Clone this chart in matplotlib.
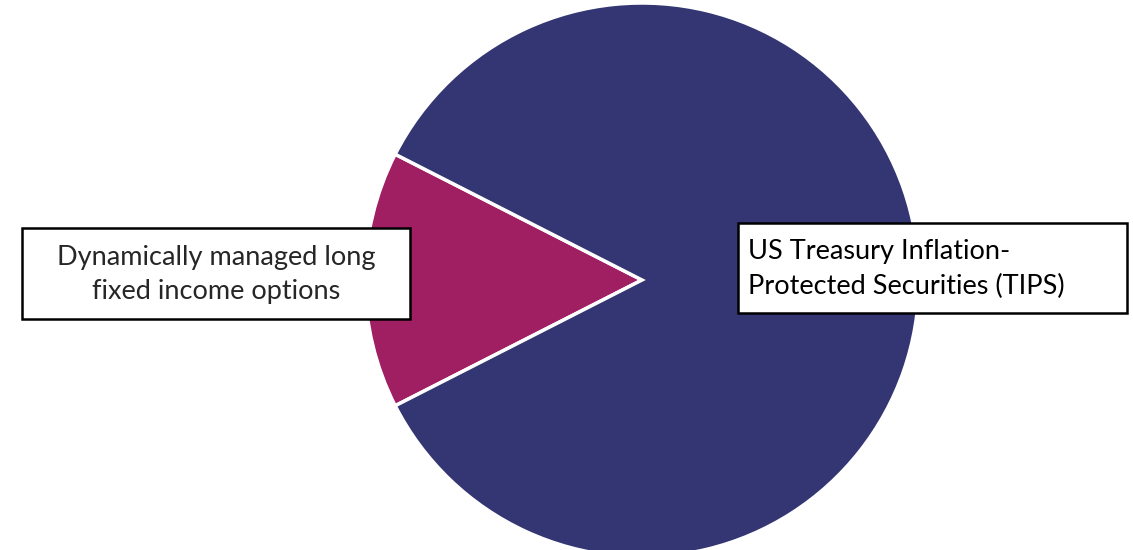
import matplotlib
matplotlib.use("Agg")
import matplotlib.pyplot as plt
from matplotlib.patches import Rectangle

# data
labels = ["Dynamically managed long\nfixed income options",
          "US Treasury Inflation-\nProtected Securities (TIPS)"]
shares = [15, 85]
colors = ["#A01E62", "#333673"]

plt.rcParams['font.family'] = ['Lato', 'DejaVu Sans']

fig = plt.figure(figsize=(11.33, 5.5), dpi=100)
ax = fig.add_axes([0, 0, 1, 1])

ax.pie(shares, colors=colors, startangle=153, center=(642, 270), radius=277,
       wedgeprops=dict(edgecolor='white', linewidth=2.5), frame=True)
ax.set_xlim(0, 1133)
ax.set_ylim(0, 550)
ax.set_aspect('equal')
ax.axis('off')

# label boxes
ax.add_patch(Rectangle((22, 550 - 319), 388, 91, facecolor='white',
                       edgecolor='black', linewidth=1.8, zorder=5))
ax.text(216, 550 - 275, labels[0], ha='center', va='center', fontsize=19.5,
        color='#262626', linespacing=1.45, zorder=6)

ax.add_patch(Rectangle((738, 550 - 313), 389, 90, facecolor='white',
                       edgecolor='black', linewidth=1.8, zorder=5))
ax.text(748, 550 - 269, labels[1], ha='left', va='center', fontsize=19.5,
        color='black', linespacing=1.45, zorder=6)

fig.savefig("out.png", dpi=100)
